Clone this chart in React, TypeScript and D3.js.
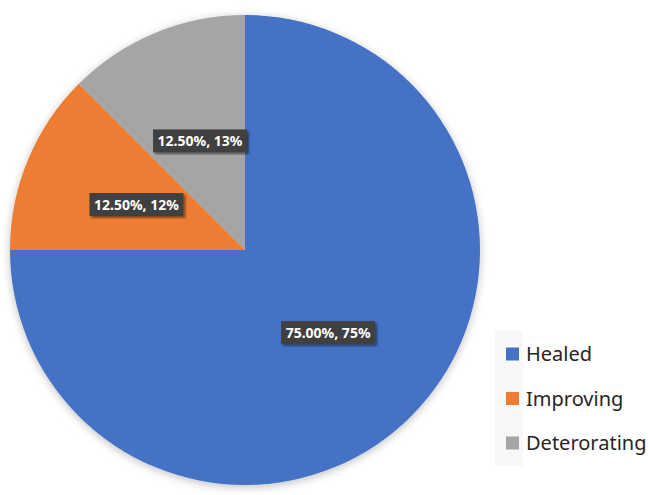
import React, { useEffect, useRef } from "react";
import * as d3 from "d3";

// chart data
const categories = ["Healed", "Improving", "Deterorating"];
const values = [75, 12.5, 12.5];
const roundedLabels = ["75%", "12%", "13%"];
const colors = ["#4472C4", "#ED7D31", "#A5A5A5"];

const App = () => {
  const svgRef = useRef<SVGSVGElement>(null);

  useEffect(() => {
    const svg = d3.select(svgRef.current);
    svg.selectAll("*").remove();

    const width = 648;
    const height = 495;
    const cx = 245;
    const cy = 250;
    const radius = 235;

    svg.attr("width", width).attr("height", height);

    const defs = svg.append("defs");
    // soft shadow under the pie
    const pieShadow = defs
      .append("filter")
      .attr("id", "pieShadow")
      .attr("x", "-10%")
      .attr("y", "-10%")
      .attr("width", "120%")
      .attr("height", "120%");
    pieShadow
      .append("feDropShadow")
      .attr("dx", 0)
      .attr("dy", 2)
      .attr("stdDeviation", 4)
      .attr("flood-color", "#000")
      .attr("flood-opacity", 0.25);

    // small shadow under the label boxes
    const boxShadow = defs.append("filter").attr("id", "boxShadow");
    boxShadow
      .append("feDropShadow")
      .attr("dx", 2)
      .attr("dy", 2)
      .attr("stdDeviation", 1.2)
      .attr("flood-color", "#000")
      .attr("flood-opacity", 0.45);

    svg.append("rect").attr("width", width).attr("height", height).attr("fill", "#fff");

    // legend background band
    svg
      .append("rect")
      .attr("x", 495)
      .attr("y", 331)
      .attr("width", 28)
      .attr("height", 135)
      .attr("fill", "#f8f8f8");

    const data = categories.map((c, i) => ({
      name: c,
      value: values[i],
      label: `${values[i].toFixed(2)}%, ${roundedLabels[i]}`,
      color: colors[i],
    }));

    const pie = d3
      .pie<any>()
      .sort(null)
      .value((d) => d.value);
    const arcs = pie(data);

    const arc = d3.arc<any>().innerRadius(0).outerRadius(radius);

    const g = svg.append("g").attr("transform", `translate(${cx},${cy})`);

    g.append("g")
      .attr("filter", "url(#pieShadow)")
      .selectAll("path")
      .data(arcs)
      .join("path")
      .attr("d", arc)
      .attr("fill", (d) => d.data.color);

    // data labels
    const labels = g
      .append("g")
      .selectAll("g")
      .data(arcs)
      .join("g")
      .attr("transform", (d) => {
        const [x, y] = arc.centroid(d);
        return `translate(${x},${y})`;
      });

    labels
      .append("rect")
      .attr("x", -47)
      .attr("y", -12)
      .attr("width", 94)
      .attr("height", 23)
      .attr("fill", "#404040")
      .attr("filter", "url(#boxShadow)");

    labels
      .append("text")
      .attr("text-anchor", "middle")
      .attr("dy", "0.36em")
      .attr("fill", "#fff")
      .style("font-family", "'Noto Sans', sans-serif")
      .style("font-weight", "bold")
      .style("font-size", "14px")
      .text((d) => d.data.label);

    // legend
    const legendY = d3
      .scalePoint()
      .domain(categories)
      .range([354, 443]);

    const legend = svg
      .append("g")
      .selectAll("g")
      .data(data)
      .join("g")
      .attr("transform", (d) => `translate(506,${legendY(d.name)})`);

    legend
      .append("rect")
      .attr("x", 0)
      .attr("y", -6.5)
      .attr("width", 13)
      .attr("height", 13)
      .attr("fill", (d) => d.color);

    legend
      .append("text")
      .attr("x", 20)
      .attr("dy", "0.36em")
      .attr("fill", "#262626")
      .style("font-family", "'Noto Sans', sans-serif")
      .style("font-size", "20px")
      .text((d) => d.name);
  }, []);

  return (
    <div style={{ position: "absolute", left: 0, top: 0 }}>
      <svg ref={svgRef} style={{ display: "block" }}></svg>
    </div>
  );
};

export default App;
